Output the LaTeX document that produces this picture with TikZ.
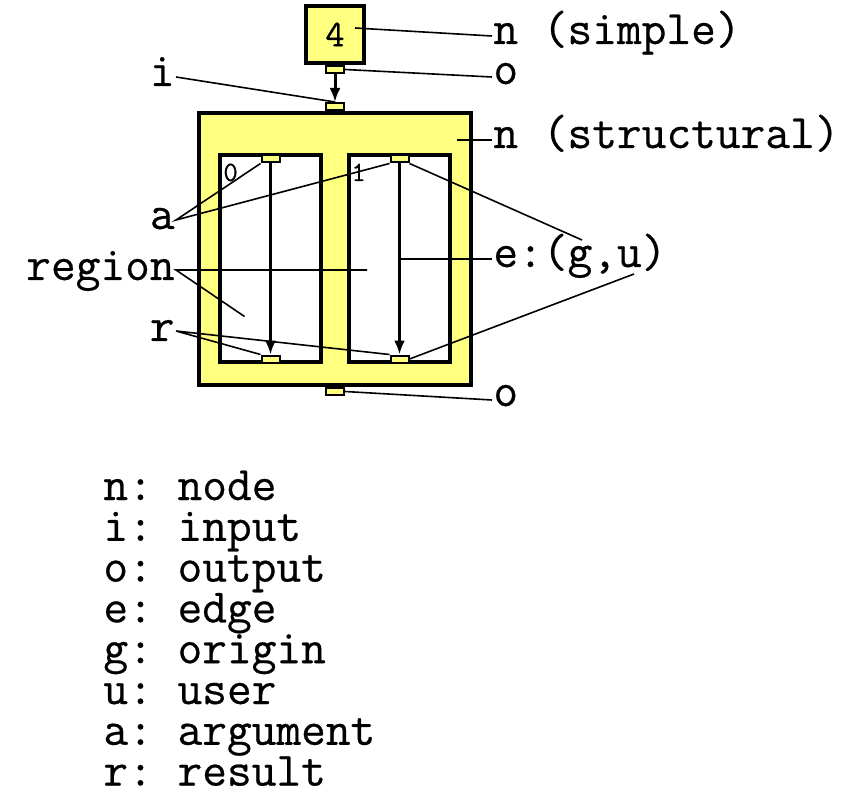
\documentclass[tikz,border=0pt]{standalone}
\usepackage{fontspec}
\setmonofont{Latin Modern Mono}[FakeBold=0.5]
\usetikzlibrary{arrows.meta,calc}
\definecolor{nodeyellow}{RGB}{255,255,128}
\tikzset{
  nodebox/.style={draw, line width=2pt, fill=nodeyellow, inner sep=0pt},
  regionbox/.style={draw, line width=2pt, fill=white, minimum width=50.5pt, minimum height=103.5pt},
  port/.style={draw, line width=1pt, fill=nodeyellow, minimum width=9pt, minimum height=3.5pt, inner sep=0pt},
  edge/.style={line width=1.5pt, -{Latex[length=7pt,width=5.5pt]}},
  pointer/.style={line width=0.8pt},
  tag/.style={font=\ttfamily\frenchspacing\fontsize{24}{28}\selectfont, inner sep=0.5pt},
  idx/.style={font=\ttfamily\fontsize{14}{16}\selectfont, inner sep=0pt},
}

\begin{document}
\begin{tikzpicture}[x=0.5pt,y=-0.5pt]
\useasboundingbox (0,0) rectangle (854,806);
% simple node
\node[nodebox, minimum width=29pt, minimum height=28.5pt, font=\ttfamily\fontsize{19}{22}\selectfont] (simple) at (335,34.5) {4};
\node[port, anchor=north] (sout) at (simple.south) {};
% structural node with two regions
\node[nodebox, minimum width=136pt, minimum height=136pt] (struct) at (335,249) {};
\node[port, anchor=south] (inport) at (struct.north) {};
\node[port, anchor=north] (outport) at (struct.south) {};
\node[regionbox] (reg0) at (270.5,258.5) {};
\node[regionbox] (reg1) at (399.5,258.5) {};
\node[port] (arg0) at ($(reg0.north)+(0,6)$) {};
\node[port] (arg1) at ($(reg1.north)+(0,6)$) {};
\node[port] (res0) at ($(reg0.south)+(0,-5)$) {};
\node[port] (res1) at ($(reg1.south)+(0,-5)$) {};
\node[idx, anchor=base west] (idx0) at ($(reg0.north west)+(5,28)$) {0};
\node[idx, anchor=base west] (idx1) at ($(reg1.north west)+(4,28)$) {1};
% edges
\draw[edge] (sout) -- (inport);
\draw[edge] (arg0) -- (res0);
\draw[edge] (arg1) -- coordinate[pos=0.5] (emid) (res1);
% labels
\node[tag, anchor=base west] (nsimple) at (492,44) {n (simple)};
\node[tag, anchor=base west] (otop) at (492,84) {o};
\node[tag, anchor=base east] (ilbl) at (176,86) {i};
\node[tag, anchor=base west] (nstruct) at (492,148) {n (structural)};
\node[tag, anchor=base east] (albl) at (176,229) {a};
\node[tag, anchor=base east] (reglbl) at (176,280) {region};
\node[tag, anchor=base east] (rlbl) at (176,341) {r};
\node[tag, anchor=base west] (elbl) at (492,267) {e:(g,u)};
\node[tag, anchor=base west] (obot) at (492,406) {o};
% pointers
\coordinate (sref) at ($(struct.north east)+(-16,29)$);
\draw[pointer] ($(simple.center)+(20,-6.5)$) -- ($(nsimple.base west)+(0,-8)$);
\draw[pointer] (sout.east) -- ($(otop.base west)+(0,-7)$);
\draw[pointer] ($(ilbl.base east)+(0,-9)$) -- (inport.north);
\draw[pointer] (sref) -- (sref -| nstruct.west);
\draw[pointer] (arg0.south west) -- ($(albl.base east)+(0,-9)$) -- (arg1.south west);
\draw[pointer] ($(reg1.west)+(20,11.5)$) -- ($(reglbl.base east)+(0,-10)$) -- ($(reg0.center)+(-26,58)$);
\draw[pointer] (res0.north west) -- ($(rlbl.base east)+(0,-10)$) -- (res1.north west);
\draw[pointer] (emid) -- (emid -| elbl.west);
\draw[pointer] (arg1.south east) -- ($(elbl.base west)+(90,-27)$);
\draw[pointer] (res1.east) -- ($(elbl.base west)+(142,7)$);
\draw[pointer] (outport.east) -- ($(obot.base west)+(0,-6)$);
% legend
\foreach \abbr/\word [count=\k from 0] in {n/node, i/input, o/output, e/edge, g/origin, u/user, a/argument, r/result}
  \node[tag, anchor=base west, inner sep=0pt] (leg\k) at (103,500+40.8*\k) {\abbr: \word};
\end{tikzpicture}
\end{document}
